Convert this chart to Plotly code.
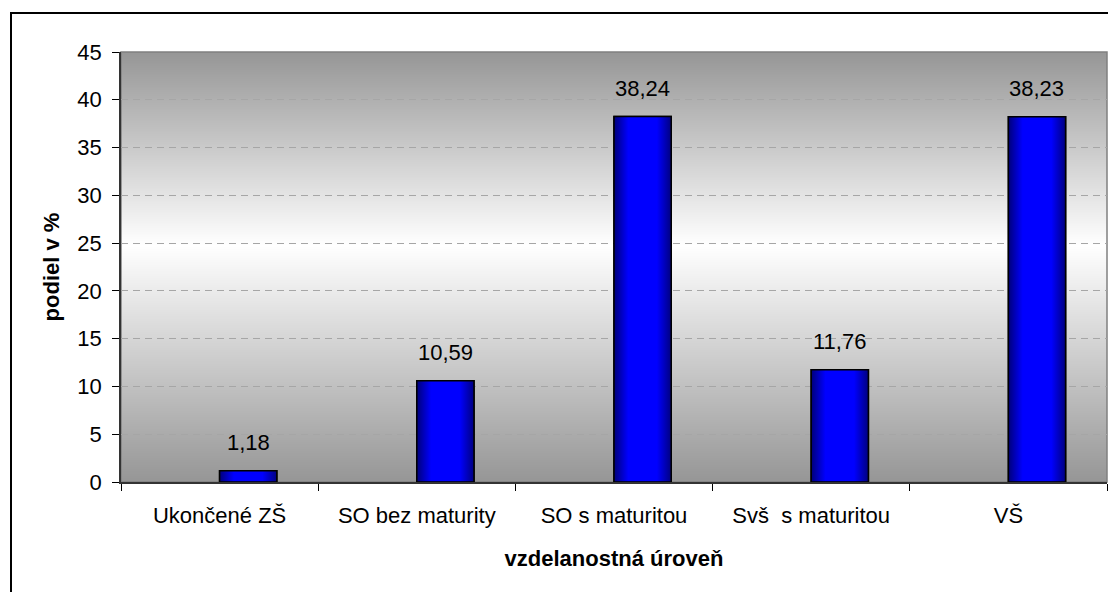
import base64
import struct
import zlib

import plotly.graph_objects as go

# ---- data ----
categories = ["Ukončené ZŠ", "SO bez maturity", "SO s maturitou", "Svš  s maturitou", "VŠ"]
values = [1.18, 10.59, 38.24, 11.76, 38.23]
y_ticks = [0, 5, 10, 15, 20, 25, 30, 35, 40, 45]
x_title = "vzdelanostná úroveň"
y_title = "podiel v %"

# ---- style ----
FONT = "Liberation Sans, Arial, sans-serif"
FS = 22
BAR_W = 0.29
L, R, T, B = 121, 1, 52, 110
W, H = 1108, 592


def gradient_png(levels):
    """Tiny grayscale PNG, 2 px wide, one row per level (top to bottom)."""
    raw = b"".join(b"\x00" + bytes([v, v]) for v in levels)

    def chunk(tag, data):
        c = tag + data
        return struct.pack(">I", len(data)) + c + struct.pack(">I", zlib.crc32(c) & 0xFFFFFFFF)

    png = b"\x89PNG\r\n\x1a\n"
    png += chunk(b"IHDR", struct.pack(">IIBBBBB", 2, len(levels), 8, 0, 0, 0, 0))
    png += chunk(b"IDAT", zlib.compress(raw, 9))
    png += chunk(b"IEND", b"")
    return "data:image/png;base64," + base64.b64encode(png).decode()


# vertical background gradient: gray at top/bottom, white near the middle
n_rows = 430
mid = 0.45
levels = []
for r in range(n_rows):
    f = r / (n_rows - 1)
    t = f / mid if f <= mid else (1 - f) / (1 - mid)
    levels.append(int(round(150 + (255 - 150) * t)))
bg_src = gradient_png(levels)

x_pos = list(range(len(categories)))

fig = go.Figure()

fig.add_trace(go.Bar(
    x=x_pos,
    y=values,
    width=BAR_W,
    offset=0,
    marker=dict(color="#0000ff", line=dict(color="#000000", width=1.5)),
    hoverinfo="skip",
    showlegend=False,
))

# gradient overlay on each bar (derived from the same data)
bar_scale = [[0, "#00007a"], [0.25, "#0000ff"], [0.75, "#0000ff"], [1, "#000080"]]
for xi, v in zip(x_pos, values):
    fig.add_trace(go.Scatter(
        x=[xi, xi + BAR_W, xi + BAR_W, xi, xi],
        y=[0, 0, v, v, 0],
        mode="lines",
        fill="toself",
        fillgradient=dict(type="horizontal", colorscale=bar_scale),
        line=dict(color="#000000", width=1.5),
        hoverinfo="skip",
        showlegend=False,
    ))

# value labels
for xi, v in zip(x_pos, values):
    fig.add_annotation(
        x=xi + BAR_W / 2,
        y=v,
        xref="x",
        yref="y",
        text=f"{v:.2f}".replace(".", ","),
        showarrow=False,
        yanchor="bottom",
        yshift=14,
        font=dict(family=FONT, size=FS, color="#000000"),
    )

fig.update_layout(
    width=W,
    height=H,
    margin=dict(l=L, r=R, t=T, b=B, pad=0),
    paper_bgcolor="#ffffff",
    plot_bgcolor="#ffffff",
    font=dict(family=FONT, size=FS, color="#000000"),
    showlegend=False,
    images=[dict(
        source=bg_src,
        xref="paper", yref="paper",
        x=0, y=1, sizex=1, sizey=1,
        xanchor="left", yanchor="top",
        sizing="stretch",
        layer="below",
    )],
    shapes=[
        # gray plot-area frame (top/right visible)
        dict(type="rect", xref="paper", yref="paper", x0=0, x1=1, y0=0, y1=1,
             line=dict(color="#808080", width=1.5), fillcolor="rgba(0,0,0,0)", layer="below"),
        # outer chart frame
        dict(type="rect", xref="paper", yref="paper",
             x0=(11 - L) / (W - L - R), x1=(1125 - L) / (W - L - R),
             y0=-(620 - (H - B)) / (H - T - B), y1=((H - B) - 13) / (H - T - B),
             line=dict(color="#000000", width=2), fillcolor="rgba(0,0,0,0)", layer="above"),
    ],
    xaxis=dict(
        range=[-0.5, len(categories) - 0.5],
        tickmode="array",
        tickvals=x_pos,
        ticktext=categories,
        ticks="",
        ticklabelstandoff=13,
        minor=dict(
            tickmode="array",
            tickvals=[i - 0.5 for i in range(len(categories) + 1)],
            ticks="outside",
            ticklen=7,
            tickcolor="#000000",
            tickwidth=1,
            showgrid=False,
        ),
        showgrid=False,
        zeroline=False,
        showline=True,
        linecolor="#333333",
        linewidth=1.5,
        tickfont=dict(family=FONT, size=FS, color="#000000"),
        title=dict(text=f"<b>{x_title}</b>", font=dict(family=FONT, size=FS, color="#000000"), standoff=23),
        fixedrange=True,
    ),
    yaxis=dict(
        range=[0, 45],
        tickmode="array",
        tickvals=y_ticks,
        ticks="outside",
        ticklen=7,
        tickcolor="#000000",
        tickwidth=1,
        ticklabelstandoff=6,
        showgrid=True,
        gridcolor="#a6a6a6",
        griddash="7px,5px",
        gridwidth=1,
        zeroline=False,
        showline=True,
        linecolor="#333333",
        linewidth=1.5,
        tickfont=dict(family=FONT, size=FS, color="#000000"),
        title=dict(text=f"<b>{y_title}</b>", font=dict(family=FONT, size=FS, color="#000000"), standoff=12),
        fixedrange=True,
    ),
)

fig.write_html("out.html")
